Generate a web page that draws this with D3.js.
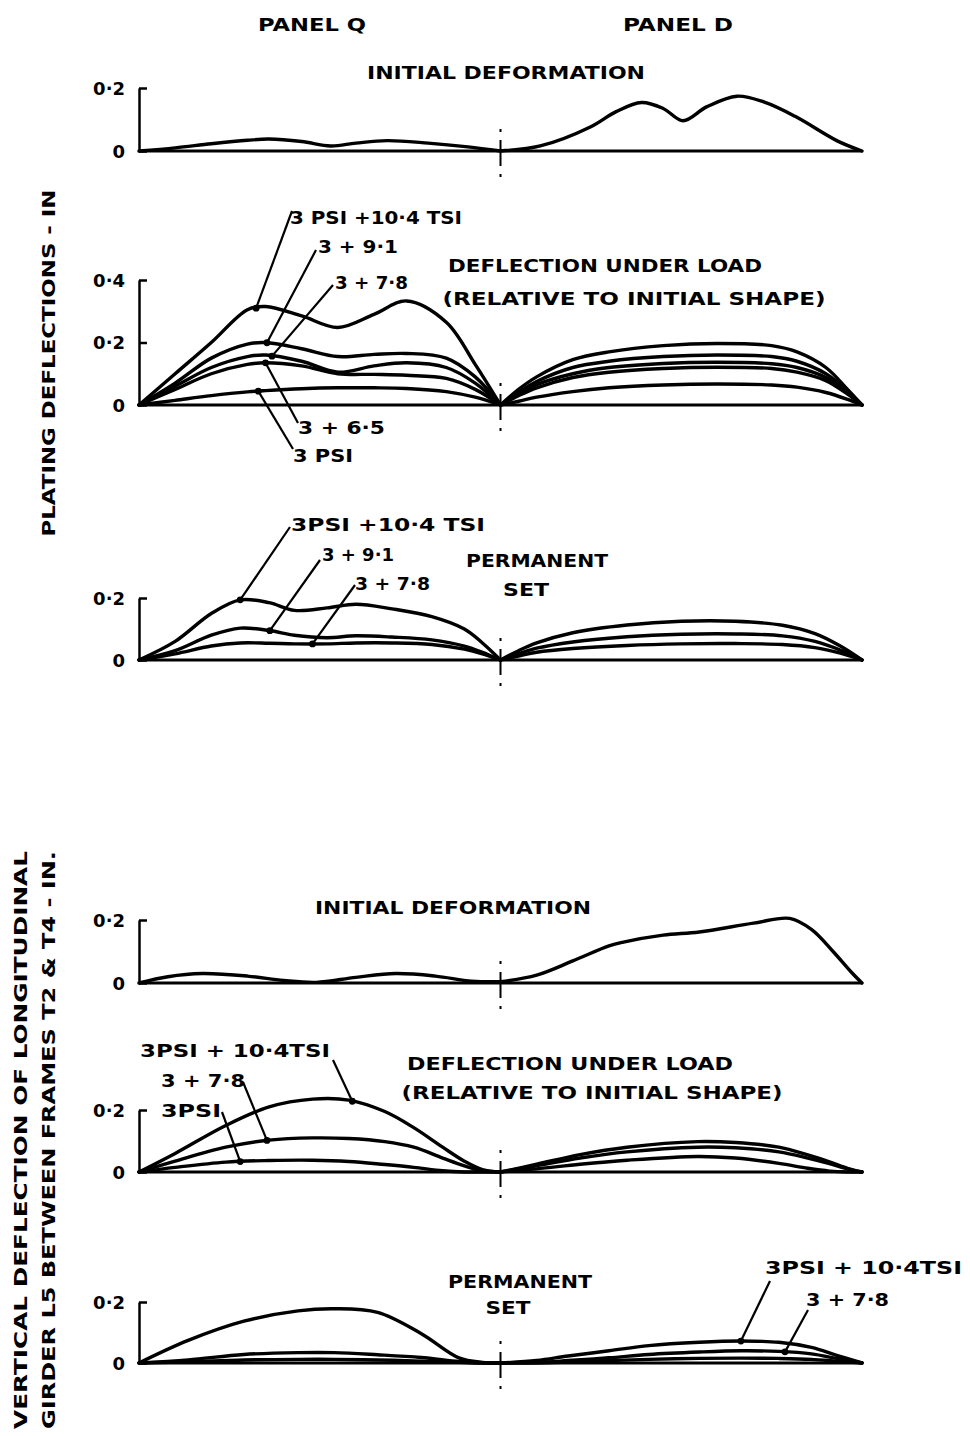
<!DOCTYPE html>
<html><head><meta charset="utf-8">
<script src="https://cdn.jsdelivr.net/npm/d3@7"></script>
<style>
html,body{margin:0;padding:0;background:#fff;}
svg{display:block;}
text{font-family:"DejaVu Sans",sans-serif;font-weight:bold;fill:#000;}
</style></head>
<body>
<div id="chart"></div>
<script>
// ---------- DATA (x: 0 = left end of Panel Q, 1 = frame between panels, 2 = right end of Panel D) ----------
const panelNames = ["PANEL Q", "PANEL D"];
const plateTicks = [0, 0.2];
const plateLoadTicks = [0, 0.2, 0.4];
const girderTicks = [0, 0.2];

// Plating - initial deformation
const plateInitQX = [0, 0.1, 0.2, 0.3, 0.36, 0.45, 0.53, 0.6, 0.686, 0.8, 0.91, 1.0];
const plateInitQ  = [0, 0.01, 0.023, 0.034, 0.038, 0.03, 0.016, 0.025, 0.033, 0.025, 0.013, 0];
const plateInitDX = [1.0, 1.11, 1.25, 1.32, 1.39, 1.45, 1.505, 1.57, 1.654, 1.73, 1.815, 1.93, 2.0];
const plateInitD  = [0, 0.016, 0.077, 0.125, 0.154, 0.135, 0.096, 0.14, 0.174, 0.155, 0.11, 0.033, 0];

// Plating - deflection under load
const loadLabels = ["3 PSI +10·4 TSI", "3 + 9·1", "3 + 7·8", "3 + 6·5", "3 PSI"];
const plateLoadQX = [0, 0.1, 0.2, 0.3, 0.35, 0.45, 0.55, 0.65, 0.74, 0.85, 0.93, 1.0];
const plateLoadQ104 = [0, 0.10, 0.20, 0.305, 0.315, 0.285, 0.248, 0.29, 0.333, 0.265, 0.13, 0];
const plateLoadQ91  = [0, 0.07, 0.15, 0.195, 0.2, 0.18, 0.155, 0.162, 0.165, 0.15, 0.09, 0];
const plateLoadQ78  = [0, 0.06, 0.12, 0.155, 0.16, 0.14, 0.105, 0.125, 0.135, 0.12, 0.07, 0];
const plateLoadQ65  = [0, 0.05, 0.10, 0.13, 0.135, 0.125, 0.10, 0.098, 0.095, 0.085, 0.05, 0];
const plateLoadQ3   = [0, 0.015, 0.03, 0.042, 0.046, 0.052, 0.055, 0.055, 0.053, 0.043, 0.025, 0];
const plateLoadDX = [1.0, 1.05, 1.1, 1.2, 1.3, 1.45, 1.6, 1.75, 1.82, 1.9, 1.96, 2.0];
const plateLoadD104 = [0, 0.05, 0.09, 0.145, 0.17, 0.19, 0.197, 0.19, 0.17, 0.12, 0.05, 0];
const plateLoadD91  = [0, 0.04, 0.075, 0.12, 0.14, 0.155, 0.16, 0.155, 0.14, 0.10, 0.045, 0];
const plateLoadD78  = [0, 0.035, 0.065, 0.10, 0.12, 0.133, 0.137, 0.132, 0.12, 0.088, 0.04, 0];
const plateLoadD65  = [0, 0.03, 0.055, 0.088, 0.105, 0.117, 0.121, 0.117, 0.105, 0.078, 0.035, 0];
const plateLoadD3   = [0, 0.012, 0.025, 0.043, 0.055, 0.064, 0.067, 0.064, 0.057, 0.04, 0.018, 0];

// Plating - permanent set
const setLabels = ["3PSI +10·4 TSI", "3 + 9·1", "3 + 7·8"];
const plateSetQX = [0, 0.1, 0.2, 0.28, 0.36, 0.43, 0.52, 0.6, 0.7, 0.81, 0.9, 0.95, 1.0];
const plateSetQ104 = [0, 0.06, 0.15, 0.194, 0.185, 0.16, 0.168, 0.18, 0.165, 0.14, 0.10, 0.055, 0];
const plateSetQ91  = [0, 0.03, 0.08, 0.103, 0.095, 0.08, 0.072, 0.078, 0.074, 0.065, 0.045, 0.025, 0];
const plateSetQ78  = [0, 0.02, 0.045, 0.055, 0.054, 0.052, 0.052, 0.055, 0.055, 0.05, 0.035, 0.02, 0];
const plateSetDX = [1.0, 1.05, 1.1, 1.2, 1.35, 1.5, 1.65, 1.78, 1.87, 1.94, 2.0];
const plateSetD104 = [0, 0.03, 0.055, 0.088, 0.113, 0.125, 0.125, 0.112, 0.085, 0.045, 0];
const plateSetD91  = [0, 0.02, 0.038, 0.058, 0.075, 0.083, 0.084, 0.078, 0.06, 0.032, 0];
const plateSetD78  = [0, 0.013, 0.025, 0.037, 0.047, 0.052, 0.053, 0.05, 0.04, 0.022, 0];

// Girder - initial deformation
const girderInitQX = [0, 0.08, 0.175, 0.3, 0.4, 0.49, 0.6, 0.71, 0.82, 0.92, 1.0];
const girderInitQ  = [0, 0.02, 0.03, 0.022, 0.008, 0.002, 0.018, 0.03, 0.022, 0.006, 0.004];
const girderInitDX = [1.0, 1.1, 1.2, 1.3, 1.34, 1.45, 1.55, 1.7, 1.8, 1.86, 1.92, 1.97, 2.0];
const girderInitD  = [0.004, 0.025, 0.07, 0.118, 0.13, 0.152, 0.162, 0.19, 0.205, 0.17, 0.10, 0.035, 0];

// Girder - deflection under load
const girderLoadLabels = ["3PSI + 10·4TSI", "3 + 7·8", "3PSI"];
const girderLoadQX = [0, 0.1, 0.24, 0.36, 0.48, 0.58, 0.68, 0.76, 0.84, 0.9, 0.95, 1.0];
const girderLoadQ104 = [0, 0.06, 0.15, 0.21, 0.235, 0.232, 0.195, 0.143, 0.08, 0.035, 0.008, 0];
const girderLoadQ78  = [0, 0.035, 0.08, 0.103, 0.11, 0.108, 0.098, 0.08, 0.045, 0.02, 0.004, 0];
const girderLoadQ3   = [0, 0.015, 0.032, 0.037, 0.038, 0.034, 0.024, 0.015, 0.004, 0, 0, 0];
const girderLoadDX = [1.0, 1.1, 1.22, 1.35, 1.545, 1.65, 1.77, 1.85, 1.91, 1.96, 2.0];
const girderLoadD104 = [0, 0.025, 0.056, 0.08, 0.098, 0.095, 0.08, 0.055, 0.033, 0.012, 0];
const girderLoadD78  = [0, 0.02, 0.045, 0.065, 0.08, 0.078, 0.065, 0.045, 0.027, 0.01, 0];
const girderLoadD3   = [0, 0.01, 0.025, 0.038, 0.05, 0.045, 0.028, 0.012, 0.003, 0, 0];

// Girder - permanent set
const girderSetLabels = ["3PSI + 10·4TSI", "3 + 7·8"];
const girderSetQX = [0, 0.136, 0.29, 0.44, 0.54, 0.66, 0.78, 0.885, 0.95, 1.0];
const girderSetQ104 = [0, 0.074, 0.137, 0.171, 0.178, 0.166, 0.097, 0.017, 0.002, 0];
const girderSetQ78  = [0, 0.01, 0.028, 0.034, 0.034, 0.027, 0.018, 0.005, 0, 0];
const girderSetQ3   = [0, 0.004, 0.01, 0.012, 0.012, 0.01, 0.006, 0.002, 0, 0];
const girderSetDX = [1.0, 1.1, 1.187, 1.3, 1.41, 1.55, 1.665, 1.77, 1.86, 1.93, 2.0];
const girderSetD104 = [0, 0.008, 0.023, 0.04, 0.057, 0.068, 0.072, 0.068, 0.051, 0.025, 0];
const girderSetD78  = [0, 0.002, 0.008, 0.017, 0.028, 0.036, 0.04, 0.038, 0.03, 0.015, 0];
const girderSetD3   = [0, 0, 0.003, 0.008, 0.012, 0.015, 0.016, 0.015, 0.012, 0.006, 0];

// ---------- DRAWING ----------
const W = 970, H = 1436;
const INK = "#000";
const svg = d3.select("#chart").append("svg").attr("width", W).attr("height", H);
svg.append("rect").attr("width", W).attr("height", H).attr("fill", "#fff");

const x = d3.scaleLinear().domain([0, 2]).range([139, 862]);
const line = (ys) => d3.line().x(d => x(d[0])).y(d => ys(Math.max(0, d[1]))).curve(d3.curveCatmullRom.alpha(0.5));
const zip = (xs, vs) => xs.map((v, i) => [v, vs[i]]);
const valueAt = (xs, vs, xv) => {
  const i = Math.max(1, d3.bisectLeft(xs, xv));
  const t = (xv - xs[i - 1]) / (xs[i] - xs[i - 1]);
  return vs[i - 1] + t * (vs[i] - vs[i - 1]);
};
const fmt = d => d === 0 ? "0" : d3.format(".1f")(d).replace(".", "·");

function label(str, cx, cy, len, size, anchor, g) {
  return (g || svg).append("text").attr("x", cx).attr("y", cy)
    .attr("font-size", size || 17).attr("text-anchor", anchor || "middle")
    .attr("textLength", len).attr("lengthAdjust", "spacingAndGlyphs").text(str);
}

function panel(cfg) {
  const y = d3.scaleLinear().domain(cfg.domain).range(cfg.range);
  const g = svg.append("g");
  // y axis
  const ax = d3.axisLeft(y).tickValues(cfg.ticks).tickSize(-8).tickSizeOuter(0).tickPadding(14).tickFormat(fmt);
  const ag = g.append("g").attr("transform", `translate(${x(0)},0)`).call(ax);
  ag.select(".domain").attr("stroke", INK).attr("stroke-width", 2.5);
  ag.selectAll(".tick line").attr("stroke", INK).attr("stroke-width", 2.5);
  ag.selectAll(".tick text").attr("font-size", 18).attr("font-family", "DejaVu Sans").attr("font-weight", "bold").attr("fill", INK).attr("dy", "0.36em");
  // baseline
  g.append("line").attr("x1", x(0)).attr("x2", x(2)).attr("y1", y(0)).attr("y2", y(0))
    .attr("stroke", INK).attr("stroke-width", 2.8);
  // frame line between panels
  g.append("line").attr("x1", x(1)).attr("x2", x(1)).attr("y1", y(0) - 22).attr("y2", y(0) + 26)
    .attr("stroke", INK).attr("stroke-width", 2).attr("stroke-dasharray", "3,8,26,8,3");
  // curves
  cfg.curves.forEach(c => {
    g.append("path").datum(zip(c[0], c[1])).attr("d", line(y))
      .attr("fill", "none").attr("stroke", INK).attr("stroke-width", 3.4)
      .attr("stroke-linejoin", "round").attr("stroke-linecap", "round");
  });
  // leaders
  (cfg.leaders || []).forEach(l => {
    const tx = x(l.at), ty = y(valueAt(l.curve[0], l.curve[1], l.at));
    g.append("line").attr("x1", l.from[0]).attr("y1", l.from[1]).attr("x2", tx).attr("y2", ty)
      .attr("stroke", INK).attr("stroke-width", 2.2);
    g.append("circle").attr("cx", tx).attr("cy", ty).attr("r", 3.4).attr("fill", INK);
    label(l.text, l.tpos[0], l.tpos[1], l.len, 17, "start", g);
  });
  (cfg.titles || []).forEach(t => label(t[0], t[1], t[2], t[3], 17, "middle", g));
  return y;
}

// Headers
label(panelNames[0], 312, 31, 108, 17);
label(panelNames[1], 678, 31, 110, 17);

// Y-axis titles
svg.append("text").attr("transform", "translate(55,363) rotate(-90)").attr("font-size", 17)
  .attr("text-anchor", "middle").attr("textLength", 347).attr("lengthAdjust", "spacingAndGlyphs")
  .text("PLATING  DEFLECTIONS - IN");
svg.append("text").attr("transform", "translate(27,1140) rotate(-90)").attr("font-size", 17)
  .attr("text-anchor", "middle").attr("textLength", 578).attr("lengthAdjust", "spacingAndGlyphs")
  .text("VERTICAL  DEFLECTION  OF  LONGITUDINAL");
svg.append("text").attr("transform", "translate(55,1140) rotate(-90)").attr("font-size", 17)
  .attr("text-anchor", "middle").attr("textLength", 578).attr("lengthAdjust", "spacingAndGlyphs")
  .text("GIRDER  L5 BETWEEN  FRAMES  T2  &  T4 - IN.");

// Panel 1 : plating initial deformation
panel({domain: [0, 0.2], range: [151, 88], ticks: plateTicks,
  curves: [[plateInitQX, plateInitQ], [plateInitDX, plateInitD]],
  titles: [["INITIAL  DEFORMATION", 506, 79, 278]]});

// Panel 2 : plating deflection under load
const pl104 = [plateLoadQX, plateLoadQ104], pl91 = [plateLoadQX, plateLoadQ91], pl78 = [plateLoadQX, plateLoadQ78],
      pl65 = [plateLoadQX, plateLoadQ65], pl3 = [plateLoadQX, plateLoadQ3];
panel({domain: [0, 0.4], range: [405, 280], ticks: plateLoadTicks,
  curves: [pl104, pl91, pl78, pl65, pl3,
    [plateLoadDX, plateLoadD104], [plateLoadDX, plateLoadD91], [plateLoadDX, plateLoadD78],
    [plateLoadDX, plateLoadD65], [plateLoadDX, plateLoadD3]],
  leaders: [
    {text: loadLabels[0], curve: pl104, at: 0.324, from: [292, 211], tpos: [290, 224], len: 172},
    {text: loadLabels[1], curve: pl91, at: 0.354, from: [316, 250], tpos: [318, 253], len: 80},
    {text: loadLabels[2], curve: pl78, at: 0.368, from: [333, 285], tpos: [335, 289], len: 73},
    {text: loadLabels[3], curve: pl65, at: 0.35, from: [298, 423], tpos: [298, 434], len: 87},
    {text: loadLabels[4], curve: pl3, at: 0.33, from: [293, 449], tpos: [293, 462], len: 60}],
  titles: [["DEFLECTION  UNDER  LOAD", 605, 272, 314], ["(RELATIVE  TO  INITIAL  SHAPE)", 634, 305, 383]]});

// Panel 3 : plating permanent set
const ps104 = [plateSetQX, plateSetQ104], ps91 = [plateSetQX, plateSetQ91], ps78 = [plateSetQX, plateSetQ78];
panel({domain: [0, 0.2], range: [660, 598], ticks: plateTicks,
  curves: [ps104, ps91, ps78,
    [plateSetDX, plateSetD104], [plateSetDX, plateSetD91], [plateSetDX, plateSetD78]],
  leaders: [
    {text: setLabels[0], curve: ps104, at: 0.28, from: [290, 527], tpos: [291, 531], len: 194},
    {text: setLabels[1], curve: ps91, at: 0.362, from: [320, 560], tpos: [322, 561], len: 72},
    {text: setLabels[2], curve: ps78, at: 0.48, from: [355, 585], tpos: [355, 590], len: 75}],
  titles: [["PERMANENT", 537, 567, 142], ["SET", 526, 596, 46]]});

// Panel 4 : girder initial deformation
panel({domain: [0, 0.2], range: [983, 920], ticks: girderTicks,
  curves: [[girderInitQX, girderInitQ], [girderInitDX, girderInitD]],
  titles: [["INITIAL  DEFORMATION", 453, 914, 276]]});

// Panel 5 : girder deflection under load
const gl104 = [girderLoadQX, girderLoadQ104], gl78 = [girderLoadQX, girderLoadQ78], gl3 = [girderLoadQX, girderLoadQ3];
panel({domain: [0, 0.2], range: [1172, 1110], ticks: girderTicks,
  curves: [gl104, gl78, gl3,
    [girderLoadDX, girderLoadD104], [girderLoadDX, girderLoadD78], [girderLoadDX, girderLoadD3]],
  leaders: [
    {text: girderLoadLabels[0], curve: gl104, at: 0.59, from: [333, 1060], tpos: [140, 1057], len: 190},
    {text: girderLoadLabels[1], curve: gl78, at: 0.354, from: [243, 1082], tpos: [161, 1087], len: 84},
    {text: girderLoadLabels[2], curve: gl3, at: 0.28, from: [222, 1112], tpos: [161, 1117], len: 60}],
  titles: [["DEFLECTION  UNDER  LOAD", 570, 1070, 326], ["(RELATIVE  TO  INITIAL  SHAPE)", 592, 1099, 381]]});

// Panel 6 : girder permanent set
const gs104 = [girderSetDX, girderSetD104], gs78 = [girderSetDX, girderSetD78];
panel({domain: [0, 0.2], range: [1363, 1302], ticks: girderTicks,
  curves: [[girderSetQX, girderSetQ104], [girderSetQX, girderSetQ78], [girderSetQX, girderSetQ3],
    gs104, gs78, [girderSetDX, girderSetD3]],
  leaders: [
    {text: girderSetLabels[0], curve: gs104, at: 1.665, from: [770, 1281], tpos: [765, 1274], len: 197},
    {text: girderSetLabels[1], curve: gs78, at: 1.787, from: [808, 1310], tpos: [806, 1306], len: 83}],
  titles: [["PERMANENT", 520, 1288, 144], ["SET", 508, 1314, 45]]});
</script>
</body></html>
